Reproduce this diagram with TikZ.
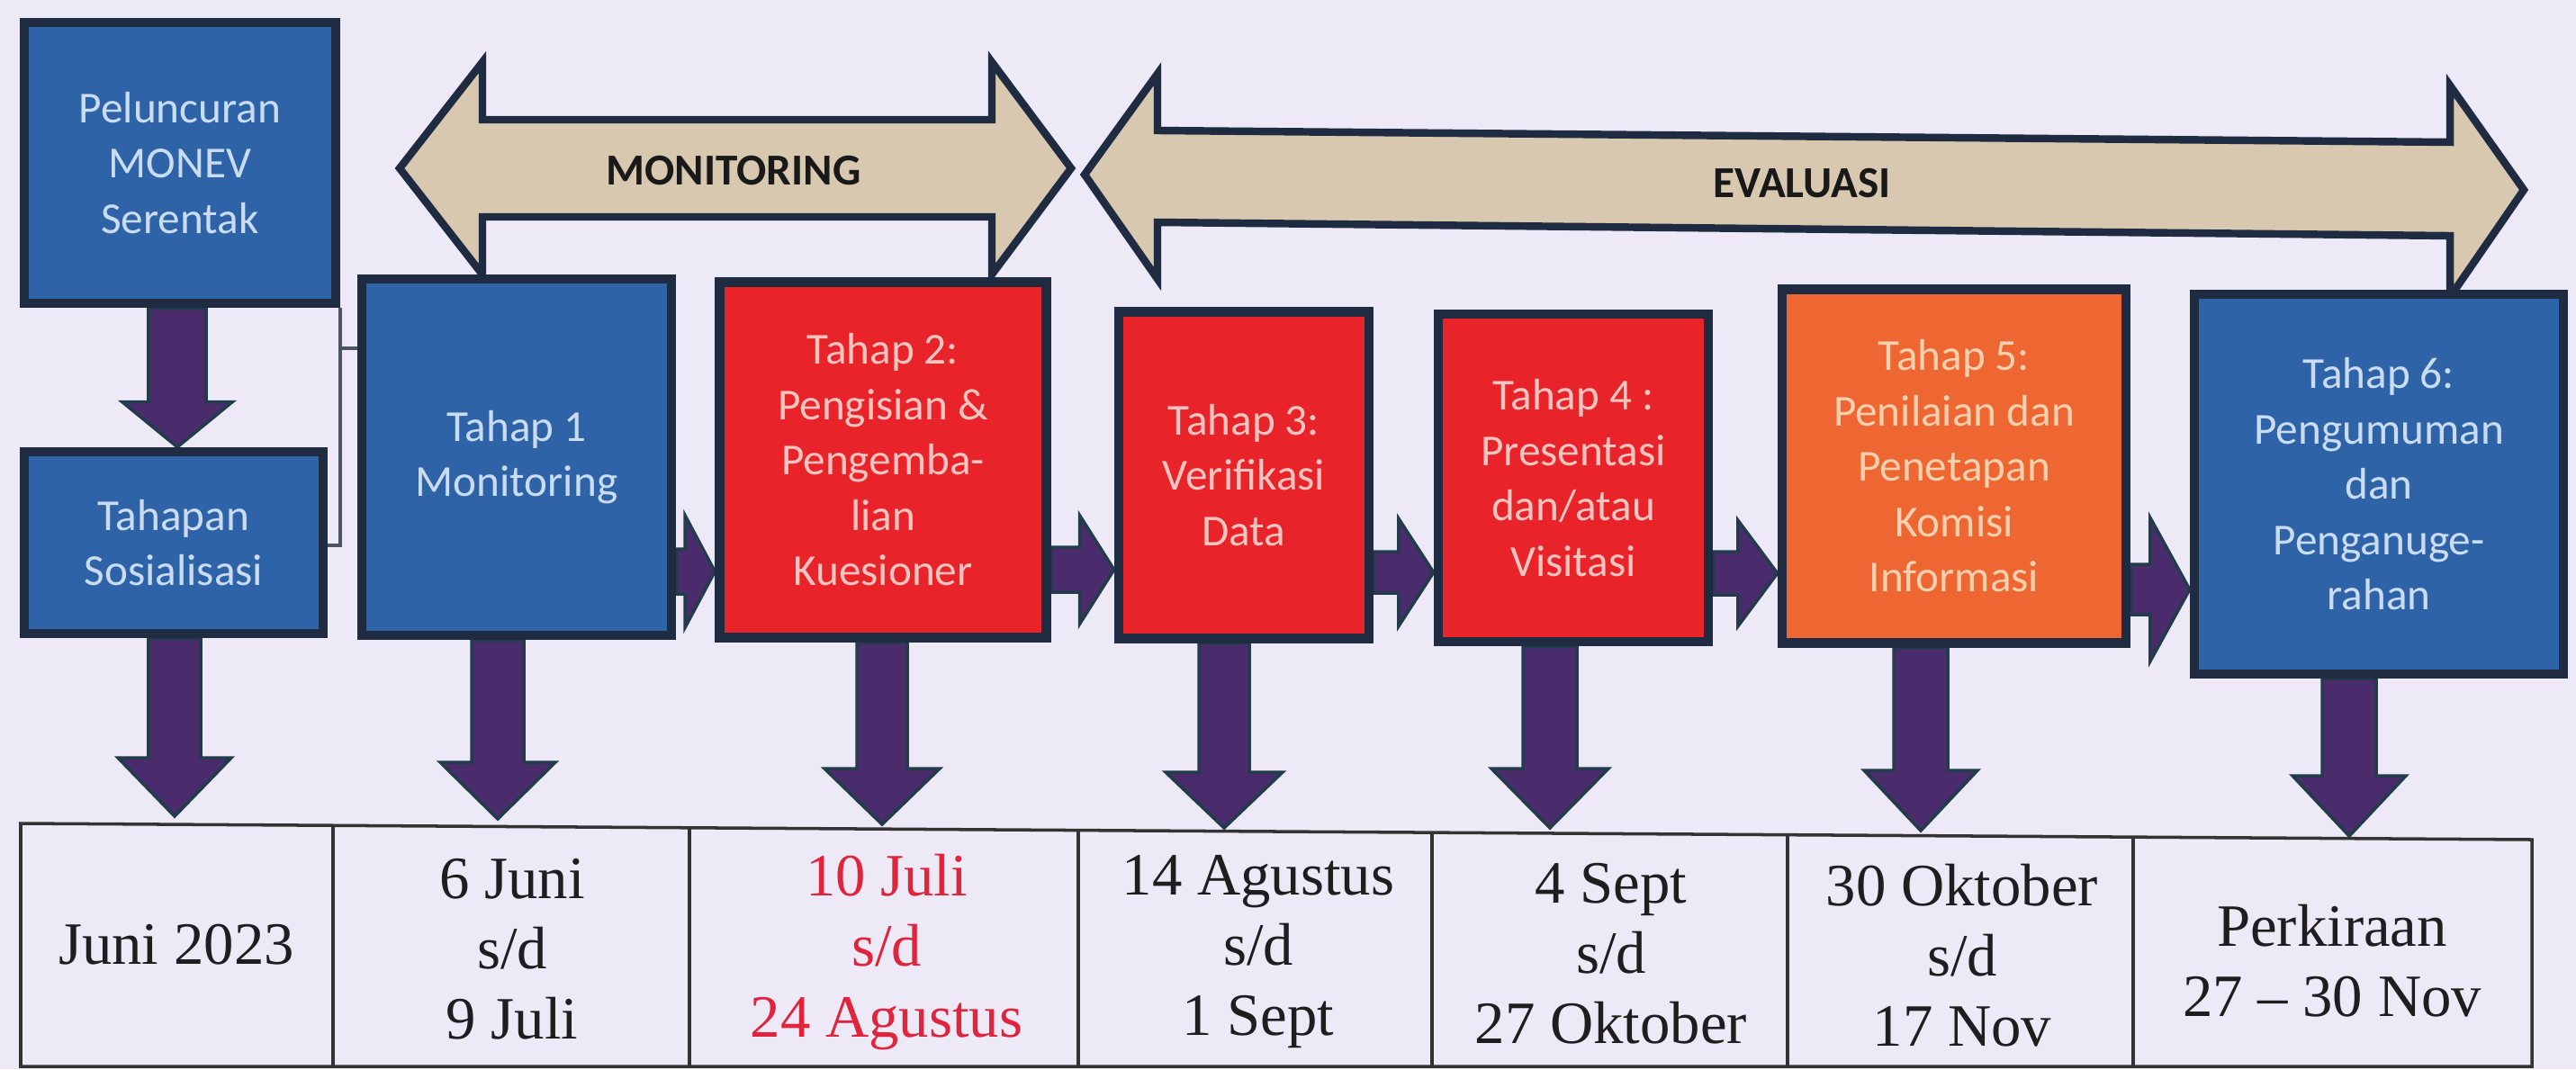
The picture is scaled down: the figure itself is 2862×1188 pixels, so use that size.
\documentclass[tikz,border=0pt]{standalone}
\usepackage{fontspec}
\setmainfont{Liberation Serif}
\newfontfamily\boxfont{Carlito}
\usetikzlibrary{calc}
\definecolor{bgc}{HTML}{EDE9F7}
\definecolor{bordc}{HTML}{1E2B40}
\definecolor{boxblue}{HTML}{2F63A8}
\definecolor{boxred}{HTML}{E8232A}
\definecolor{boxorange}{HTML}{EE6631}
\definecolor{txtblue}{HTML}{CADCF2}
\definecolor{txtred}{HTML}{F8C4C0}
\definecolor{txtorange}{HTML}{F9D0AE}
\definecolor{arrfill}{HTML}{4A2C6C}
\definecolor{arrline}{HTML}{223C4C}
\definecolor{tanfill}{HTML}{D9C8B0}
\definecolor{tabtxt}{HTML}{1E1E1E}
\definecolor{tabred}{HTML}{E0243C}
\tikzset{
  box/.style={draw=bordc, line width=3pt, inner sep=0pt, align=center,
    font=\boxfont\fontsize{14}{17.5}\selectfont},
  bluebox/.style={box, fill=boxblue, text=txtblue},
  redbox/.style={box, fill=boxred, text=txtred},
  orangebox/.style={box, fill=boxorange, text=txtorange},
  fatarrow/.style={fill=arrfill, draw=arrline, line width=1pt, line join=miter},
  dblarrow/.style={fill=tanfill, draw=bordc, line width=2.4pt, line join=miter},
  bandlabel/.style={font=\boxfont\bfseries\fontsize{14}{17}\selectfont, text=black!90, inner sep=0pt},
  cell/.style={align=center, inner sep=0pt, text=tabtxt, font=\fontsize{19}{22.2}\selectfont},
  tabline/.style={draw=black!80, line width=1pt},
  thinline/.style={draw=bordc!80, line width=0.9pt}
}
\newcommand\FatDown[5]{%
  \path[fatarrow] let \p1=(#1), \p2=(#2) in
    (\x1-#3,\y1) -- (\x1+#3,\y1) -- (\x1+#3,\y2+#5) -- (\x1+#4,\y2+#5) --
    (\x1,\y2) -- (\x1-#4,\y2+#5) -- (\x1-#3,\y2+#5) -- cycle;}
\newcommand\FatRight[5]{%
  \path[fatarrow] let \p1=(#1), \p2=(#2) in
    (\x1,\y2-#3) -- (\x2-#5,\y2-#3) -- (\x2-#5,\y2-#4) -- (\x2,\y2) --
    (\x2-#5,\y2+#4) -- (\x2-#5,\y2+#3) -- (\x1,\y2+#3) -- cycle;}
\begin{document}
\begin{tikzpicture}[x=0.1mm, y=-0.1mm]
\fill[bgc] (0,0) rectangle (2862,1188);
\useasboundingbox (0,0) rectangle (2862,1188);

% --- boxes (positions only; drawn later over the arrows)
\path
  (200,181)  node[bluebox, minimum width=34.6mm, minimum height=31.2mm] (pel) {Peluncuran\\MONEV\\Serentak}
  (193,603)  node[bluebox, minimum width=33.2mm, minimum height=20.2mm] (sos) {Tahapan\\Sosialisasi}
  (574,508)  node[bluebox, minimum width=34.4mm, minimum height=39.6mm] (t1) {Tahap 1\\Monitoring}
  (981,511)  node[redbox, minimum width=36.3mm, minimum height=39.5mm] (t2) {Tahap 2:\\Pengisian \&\\Pengemba-\\lian\\Kuesioner}
  (1382,528) node[redbox, minimum width=27.8mm, minimum height=36.3mm] (t3) {Tahap 3:\\Verifikasi\\Data}
  (1748,531) node[redbox, minimum width=30.0mm, minimum height=36.4mm] (t4) {Tahap 4 :\\Presentasi\\dan/atau\\Visitasi}
  (2171,518) node[orangebox, minimum width=38.2mm, minimum height=39.3mm] (t5) {Tahap 5:\\Penilaian dan\\Penetapan\\Komisi\\Informasi}
  (2643,538) node[bluebox, minimum width=41.0mm, minimum height=42.2mm] (t6) {Tahap 6:\\Pengumuman\\dan\\Penganuge-\\rahan};

% --- band arrows
\path[dblarrow] (444,187) -- (536,69) -- (536,133) -- (1102,133) -- (1102,69) -- (1190,187)
  -- (1102,305) -- (1102,241) -- (536,241) -- (536,305) -- cycle;
\node[bandlabel] (mon) at (815,190) {MONITORING};
\path[dblarrow] (1205,194) -- (1286,82) -- (1286,145) -- (2722,158) -- (2722,95) -- (2804,211)
  -- (2722,330) -- (2722,262) -- (1286,247) -- (1286,310) -- cycle;
\node[bandlabel] (eva) at (2002,204) {EVALUASI};

% --- arrow end coordinates
\coordinate (dd) at (197,500);
\coordinate (d0) at (194,907);
\coordinate (d1) at (553,910);
\coordinate (d2) at (980,916);
\coordinate (d3) at (1360,920);
\coordinate (d4) at (1722,920);
\coordinate (d5) at (2134,923);
\coordinate (d6) at (2610,929);
\coordinate (a12) at (0,635);
\coordinate (a23) at (0,633);
\coordinate (a34) at (0,636);
\coordinate (a45) at (0,637);
\coordinate (a56) at (0,655);

% --- arrows (under the boxes)
\FatDown{pel.south -| dd}{sos.north -| dd}{3.2mm}{6.1mm}{5mm}
\FatDown{sos.south -| d0}{d0}{2.9mm}{6.3mm}{6.5mm}
\FatDown{t1.south -| d1}{d1}{2.9mm}{6.4mm}{6.3mm}
\FatDown{t2.south -| d2}{d2}{2.8mm}{6.4mm}{6.2mm}
\FatDown{t3.south -| d3}{d3}{2.8mm}{6.5mm}{6.2mm}
\FatDown{t4.south -| d4}{d4}{3.0mm}{6.5mm}{6.6mm}
\FatDown{t5.south -| d5}{d5}{3.0mm}{6.3mm}{6.7mm}
\FatDown{t6.south -| d6}{d6}{3.0mm}{6.3mm}{6.7mm}

\FatRight{t1.east |- a12}{t2.west |- a12}{2.5mm}{6.2mm}{3.3mm}
\FatRight{t2.east |- a23}{t3.west |- a23}{2.5mm}{6.0mm}{3.8mm}
\FatRight{t3.east |- a34}{t4.west |- a34}{2.3mm}{6.0mm}{3.9mm}
\FatRight{t4.east |- a45}{t5.west |- a45}{2.4mm}{5.9mm}{4.4mm}
\FatRight{t5.east |- a56}{t6.west |- a56}{2.8mm}{8.0mm}{4.4mm}

% --- bracket connector
\coordinate (bk) at (378,387);
\coordinate (bb) at (378,606);
\draw[thinline] (pel.south east -| bk) -- (bk) -- (t1.west |- bk);
\draw[thinline] (bk) -- (bb) -- (sos.east |- bb);

% --- boxes drawn on top
\node[bluebox, minimum width=34.6mm, minimum height=31.2mm] at (pel) {Peluncuran\\MONEV\\Serentak};
\node[bluebox, minimum width=33.2mm, minimum height=20.2mm] at (sos) {Tahapan\\Sosialisasi};
\node[bluebox, minimum width=34.4mm, minimum height=39.6mm] at (t1) {Tahap 1\\Monitoring};
\node[redbox, minimum width=36.3mm, minimum height=39.5mm] at (t2) {Tahap 2:\\Pengisian \&\\Pengemba-\\lian\\Kuesioner};
\node[redbox, minimum width=27.8mm, minimum height=36.3mm] at (t3) {Tahap 3:\\Verifikasi\\Data};
\node[redbox, minimum width=30.0mm, minimum height=36.4mm] at (t4) {Tahap 4 :\\Presentasi\\dan/atau\\Visitasi};
\node[orangebox, minimum width=38.2mm, minimum height=39.3mm] at (t5) {Tahap 5:\\Penilaian dan\\Penetapan\\Komisi\\Informasi};
\node[bluebox, minimum width=41.0mm, minimum height=42.2mm] at (t6) {Tahap 6:\\Pengumuman\\dan\\Penganuge-\\rahan};

% --- table
\draw[tabline] (23,915) -- (2813,933) -- (2813,1185) -- (23,1185) -- cycle;
\foreach \cx/\cy in {370/917.2, 766/919.8, 1198/922.6, 1591/925.1, 1986/927.7, 2370/930.1}
  \draw[tabline] (\cx,\cy) -- (\cx,1185);

\node[cell] (c0) at (196,1050) {Juni 2023};
\node[cell] (c1) at (569,1055) {6 Juni\\s/d\\9 Juli};
\node[cell, text=tabred] (c2) at (985,1058) {10 Juli\\s/d\\24 Agustus};
\node[cell] (c3) at (1398,1058) {14 Agustus\\s/d\\1 Sept};
\node[cell] (c4) at (1790,1060) {4 Sept\\s/d\\27 Oktober};
\node[cell] (c5) at (2180,1062) {30 Oktober\\s/d\\17 Nov};
\node[cell] (c6) at (2591,1068) {Perkiraan\\27 – 30 Nov};
\end{tikzpicture}
\end{document}
